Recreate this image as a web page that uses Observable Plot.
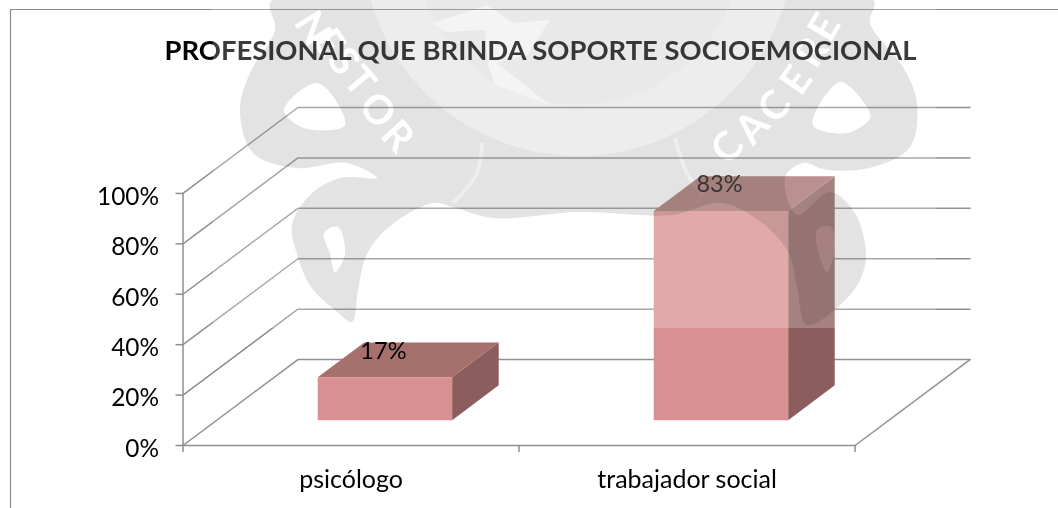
<!DOCTYPE html>
<html>
<head>
<meta charset="utf-8">
<style>html,body{margin:0;padding:0;background:#fff;overflow:hidden}</style>
<script src="https://cdn.jsdelivr.net/npm/d3@7"></script>
<script src="https://cdn.jsdelivr.net/npm/@observablehq/plot@0.6"></script>
</head>
<body>
<script>
const categories = ["psicólogo", "trabajador social"];
const values = [17, 83];
const labels = ["17%", "83%"];
const yTicks = [0, 20, 40, 60, 80, 100];
const title = "PROFESIONAL QUE BRINDA SOPORTE SOCIOEMOCIONAL";

const FONT = "Lato, Carlito, Calibri, sans-serif";
const skewX = 0.342, skewY = 34.1;          // oblique projection of the depth axis
const barWidth = 0.4, depth0 = 0.295, depth1 = 0.7;
const LINE = "#8f8f8f";

const P = (x, v, d) => ({x: x + d * skewX, y: v + d * skewY});
const bars = values.map((v, i) => {
  const a = i + 0.5 - barWidth / 2, b = i + 0.5 + barWidth / 2;
  return {
    i, v,
    front: [P(a, 0, depth0), P(b, 0, depth0), P(b, v, depth0), P(a, v, depth0)],
    top: [P(a, v, depth0), P(b, v, depth0), P(b, v, depth1), P(a, v, depth1)],
    side: [P(b, 0, depth0), P(b, 0, depth1), P(b, v, depth1), P(b, v, depth0)]
  };
});
const face = (k) => bars.flatMap(b => b[k].map(p => ({...p, z: b.i})));
const grid = yTicks.flatMap(v => [P(0, v, 0), P(0, v, 1), P(2, v, 1)].map(p => ({...p, z: v})));
const floorEdge = [P(2, 0, 1), P(2, 0, 0), P(0, 0, 0)];
const wall = [P(0, 0, 0), P(0, 100, 0)];

// --- decorative background seal (not data) ---
const sealShape = [[272,0],[275,30],[250,73],[240,110],[253,153],[297,168],[347,163],[377,178],[340,178],[310,195],[292,225],[297,254],[311,287],[335,310],[352,322],[358,290],[367,254],[389,227],[433,203],[453,207],[493,218],[580,212],[672,215],[722,203],[767,227],[789,254],[797,287],[807,325],[840,305],[860,280],[866,254],[855,213],[830,192],[797,215],[785,177],[803,163],[827,170],[873,167],[910,147],[917,103],[903,67],[870,23],[873,0]];
const sealHoles = [
  [[284,110],[318,83],[345,125],[304,128]],
  [[813,125],[840,82],[867,107],[870,118],[847,133]],
  [[324,233],[338,227],[345,254],[335,272],[330,254]],
  [[817,230],[831,227],[834,254],[827,272],[819,254]]
];
const sealChevron = [[433,23],[487,5],[513,23],[550,20],[527,55],[497,63],[550,105],[495,85],[488,65],[485,30],[445,32]];
const sealArcs = [[[482,143],[477,173],[453,203]], [[675,138],[688,175],[703,195]]];
const sealLetters = [["N",313,28,58],["E",329,42,58],["S",344,61,55],["T",360,81,50],["O",378,110,48],["R",398,136,48],
  ["C",727,147,-48],["A",752,127,-48],["C",774,106,-50],["E",796,80,-55],["R",811,52,-58],["E",824,27,-60]];

function watermark() {
  const NS = "http://www.w3.org/2000/svg";
  const g = d3.select(document.createElementNS(NS, "g"));
  const clipId = "seal-clip";
  g.append("clipPath").attr("id", clipId).append("rect")
    .attr("x", 213).attr("y", 0).attr("width", 723).attr("height", 328);
  g.append("rect").attr("x", 213).attr("y", 0).attr("width", 723).attr("height", 328)
    .attr("fill", "#fff").attr("fill-opacity", 0.23);
  const m = g.append("g").attr("clip-path", `url(#${clipId})`).style("mix-blend-mode", "multiply");
  const curve = d3.line().curve(d3.curveCatmullRomClosed.alpha(0.5));
  const open = d3.line().curve(d3.curveCatmullRom.alpha(0.5));
  m.append("path").attr("d", curve(sealShape)).attr("fill", "#e3e3e3");
  m.append("circle").attr("cx", 578).attr("cy", -60).attr("r", 216).attr("fill", "#ededed");
  m.append("circle").attr("cx", 578).attr("cy", -60).attr("r", 165).attr("fill", "#e9e9e9");
  m.append("path").attr("d", d3.line()(sealChevron)).attr("fill", "#f4f4f4");
  for (const a of sealArcs) m.append("path").attr("d", open(a)).attr("fill", "none").attr("stroke", "#eeeeee").attr("stroke-width", 4);
  for (const h of sealHoles) m.append("path").attr("d", curve(h)).attr("fill", "#fff");
  for (const [c, x, y, r] of sealLetters) {
    m.append("text").text(c).attr("transform", `translate(${x},${y}) rotate(${r})`)
      .attr("text-anchor", "middle").attr("dy", "0.35em")
      .attr("font-family", FONT).attr("font-weight", 700).attr("font-size", 40).attr("fill", "#fff");
  }
  return g.node();
}
function outerFrame() {
  const NS = "http://www.w3.org/2000/svg";
  const p = document.createElementNS(NS, "path");
  p.setAttribute("d", "M10.5,508V9.5H1058");
  p.setAttribute("fill", "none");
  p.setAttribute("stroke", "#8a8a8a");
  p.setAttribute("stroke-width", 1.2);
  return p;
}

const chart = Plot.plot({
  width: 1058, height: 508,
  marginLeft: 182.5, marginRight: 88.5, marginTop: 107, marginBottom: 63,
  style: {background: "#fff", fontFamily: FONT, overflow: "hidden"},
  x: {domain: [0, 2 + skewX]},
  y: {domain: [0, 100 + skewY]},
  marks: [
    outerFrame,
    Plot.line(grid, {x: "x", y: "y", z: "z", stroke: LINE, strokeWidth: 1.5}),
    Plot.line(floorEdge, {x: "x", y: "y", stroke: LINE, strokeWidth: 1.5}),
    Plot.line(wall, {x: "x", y: "y", stroke: LINE, strokeWidth: 1.5}),
    Plot.line(face("side"), {x: "x", y: "y", z: "z", fill: "#8b5d5c", stroke: "none"}),
    Plot.line(face("top"), {x: "x", y: "y", z: "z", fill: "#a6706c", stroke: "none"}),
    Plot.line(face("front"), {x: "x", y: "y", z: "z", fill: "#d89190", stroke: "none"}),
    Plot.axisY({ticks: yTicks, tickFormat: () => "", tickSize: 7, stroke: LINE, strokeWidth: 1.5, label: null}),
    Plot.axisY({ticks: yTicks, tickFormat: d => d + "%", tickSize: 0, tickPadding: 24, dy: 3.5,
      fontSize: 24.4, fill: "#000", label: null}),
    Plot.axisX({ticks: [0, 1, 2], tickFormat: () => "", tickSize: 7, stroke: LINE, strokeWidth: 1.5, label: null}),
    Plot.axisX({ticks: [0.5, 1.5], tickFormat: d => categories[Math.floor(d)], tickSize: 0, tickPadding: 25,
      fontSize: 25, fill: "#000", label: null}),
    Plot.text(bars.map((b, i) => ({x: i + 0.5 + depth0 * skewX, y: b.v + depth0 * skewY, t: labels[i]})), {
      x: "x", y: "y", text: "t", dx: -1.5, dy: -26, fontSize: 23.5, fill: "#000"}),
    Plot.text([title], {frameAnchor: "top", dx: -36, dy: -67, fontSize: 27.4, fontWeight: 700, fill: "#000"}),
    watermark
  ]
});
document.body.appendChild(chart);
</script>
</body>
</html>
